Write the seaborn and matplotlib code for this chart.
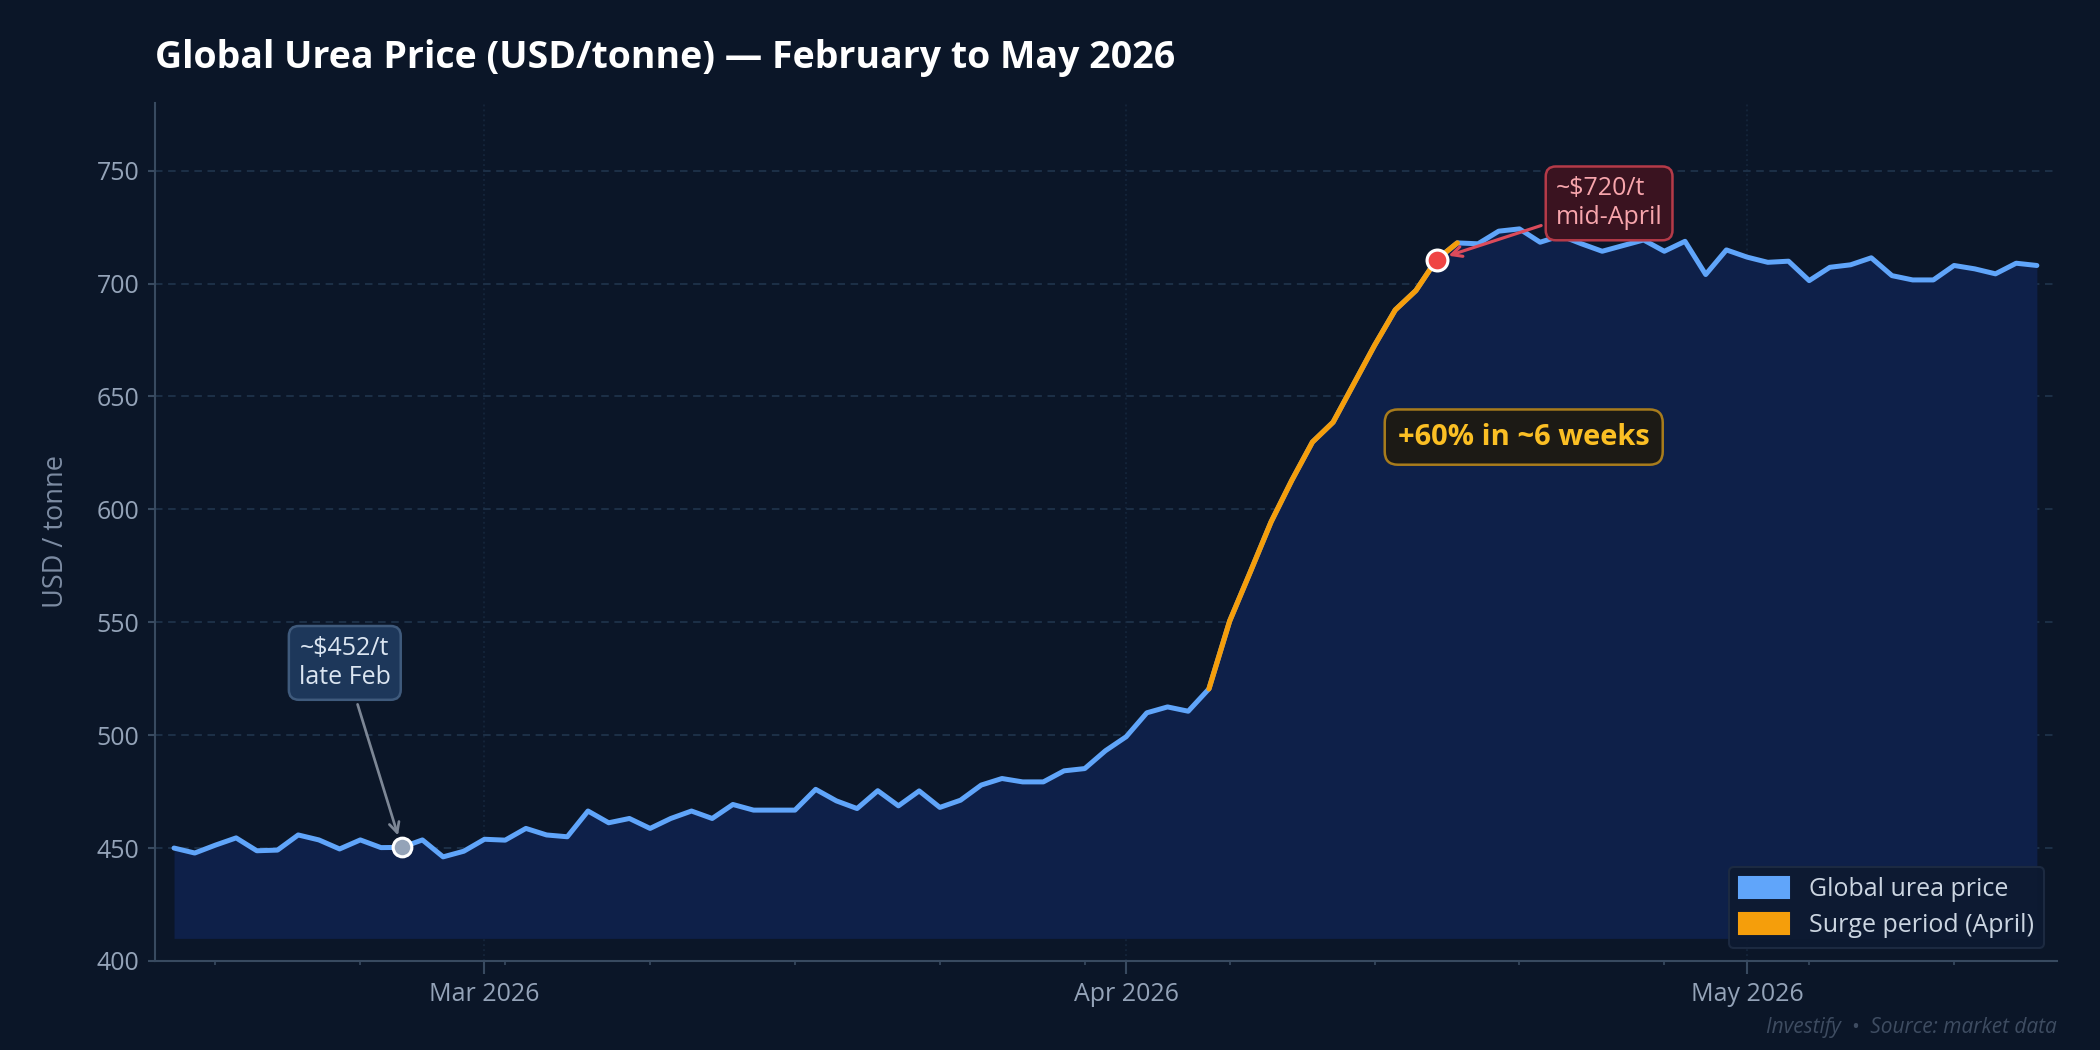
import matplotlib
matplotlib.use('Agg')
import matplotlib.pyplot as plt
import matplotlib.dates as mdates
from matplotlib.patches import Patch
import seaborn as sns
import pandas as pd

# daily global urea price, USD/tonne, 14 Feb -> 15 May 2026
start_date = '2026-02-14'
price = [
    450.0, 447.8, 451.3, 454.5, 448.8, 449.1, 455.8, 453.6, 449.6, 453.6,
    450.2, 450.3, 453.6, 446.1, 448.6, 453.9, 453.5, 458.7, 455.8, 455.0,
    466.4, 461.2, 463.1, 458.7, 463.1, 466.4, 463.1, 469.3, 466.8, 466.8,
    466.8, 476.0, 470.9, 467.5, 475.4, 468.7, 475.3, 468.0, 471.2, 477.9,
    480.8, 479.3, 479.3, 484.2, 485.2, 493.1, 499.3, 509.9, 512.5, 510.6,
    520.5, 550.5, 572.3, 594.4, 612.8, 629.8, 638.6, 655.6, 672.6, 688.3,
    696.9, 710.6, 718.0, 717.6, 723.2, 724.2, 718.3, 721.2, 717.6, 714.3,
    716.8, 719.3, 714.3, 718.7, 704.0, 714.9, 711.7, 709.4, 709.9, 701.3,
    707.2, 708.3, 711.4, 703.5, 701.6, 701.6, 708.0, 706.5, 704.3, 709.0,
    708.0,
]
surge_start, surge_end = '2026-04-05', '2026-04-17'
low_date, peak_date = '2026-02-25', '2026-04-16'
series_labels = ['Global urea price', 'Surge period (April)']

df = pd.DataFrame({'date': pd.date_range(start_date, periods=len(price), freq='D'),
                   'price': price})
surge = df[(df.date >= surge_start) & (df.date <= surge_end)]

BG = '#0b1628'
BLUE = '#60a5fa'
ORANGE = '#f59e0b'
FILL = '#0e2049'
GRID = '#1e3149'
SPINE = '#384a60'
TICK = '#94a3b8'

sns.set_theme(style='dark', rc={
    'figure.facecolor': BG, 'axes.facecolor': BG,
    'axes.edgecolor': SPINE, 'xtick.color': SPINE, 'ytick.color': SPINE,
    'xtick.labelcolor': TICK, 'ytick.labelcolor': TICK,
})
plt.rcParams['font.family'] = ['Open Sans', 'DejaVu Sans']

fig, ax = plt.subplots(figsize=(14, 7), dpi=150)
fig.subplots_adjust(left=0.0738, right=0.9795, top=0.902, bottom=0.0848)

ax.fill_between(df.date, 410, df.price, color=FILL, linewidth=0, zorder=1)
sns.lineplot(data=df, x='date', y='price', ax=ax, color=BLUE, linewidth=2.4, zorder=3)
sns.lineplot(data=surge, x='date', y='price', ax=ax, color=ORANGE, linewidth=2.5, zorder=4)

low = df[df.date == low_date]
peak = df[df.date == peak_date]
ax.scatter(low.date, low.price, s=80, color='#94a3b8', edgecolor='white', linewidth=1.5, zorder=6)
ax.scatter(peak.date, peak.price, s=100, color='#ef4444', edgecolor='white', linewidth=1.5, zorder=6)

# axes
ax.set_ylim(400, 780)
ax.set_yticks(range(400, 751, 50))
ax.set_xlim(df.date.iloc[0] - pd.Timedelta(days=0.92), df.date.iloc[-1] + pd.Timedelta(days=0.97))
ax.xaxis.set_major_locator(mdates.MonthLocator())
ax.xaxis.set_major_formatter(mdates.DateFormatter('%b %Y'))
ax.xaxis.set_minor_locator(mdates.WeekdayLocator(byweekday=mdates.MO))
ax.tick_params(axis='x', which='major', length=6, width=1, pad=4, labelsize=12, bottom=True)
ax.tick_params(axis='x', which='minor', length=2, width=0.8, bottom=True)
ax.tick_params(axis='y', which='major', length=3.5, width=1, pad=4, labelsize=12, left=True)
for s in ['top', 'right']:
    ax.spines[s].set_visible(False)
for s in ['left', 'bottom']:
    ax.spines[s].set_color(SPINE)
    ax.spines[s].set_linewidth(1)
ax.grid(axis='y', color=GRID, linestyle=(0, (4, 3)), linewidth=0.9)
ax.grid(axis='x', which='major', color='#14243a', linestyle=':', linewidth=0.9)
ax.set_axisbelow(True)
ax.set_xlabel('')
ax.set_ylabel('USD / tonne', fontsize=13, color='#7d8ca3')
ax.yaxis.set_label_coords(-0.0447, 0.5)

# annotations
ax.annotate('~$452/t\nlate Feb', xy=(low.date.iloc[0], low.price.iloc[0]),
            xytext=(pd.Timestamp('2026-02-22 06:00'), 532), ha='center', va='center',
            fontsize=12, color='#dbe5f1',
            bbox=dict(boxstyle='round,pad=0.4', fc='#1d375a', ec='#3f5a7c', lw=1.2),
            arrowprops=dict(arrowstyle='->', color='#7d8796', lw=1.3, shrinkB=6), zorder=7)
ax.annotate('~$720/t\nmid-April', xy=(peak.date.iloc[0], peak.price.iloc[0]),
            xytext=(pd.Timestamp('2026-04-24 08:00'), 735.5), ha='center', va='center',
            multialignment='left', fontsize=12, color='#f7a5ac',
            bbox=dict(boxstyle='round,pad=0.4', fc='#3a1320', ec='#b53a48', lw=1.2),
            arrowprops=dict(arrowstyle='->', color='#dc4b5b', lw=1.5, shrinkB=6), zorder=7)
ax.text(pd.Timestamp('2026-04-20 05:00'), 632, '+60% in ~6 weeks', ha='center', va='center',
        fontsize=14, fontweight='bold', color='#fbbf24', zorder=7,
        bbox=dict(boxstyle='round,pad=0.45', fc='#1c1a15', ec='#a87c1c', lw=1.2))

handles = [Patch(color=BLUE), Patch(color=ORANGE)]
leg = ax.legend(handles, series_labels, loc='lower right', fontsize=12, frameon=True,
                facecolor='#0d1a31', edgecolor='#1d2b42', framealpha=0.95,
                labelcolor='#cbd5e1', handlelength=2.0, handleheight=0.9,
                labelspacing=0.45, borderaxespad=0.5)
leg.set_zorder(8)

fig.text(0.0738, 1 - 58 / 1050, 'Global Urea Price (USD/tonne) \u2014 February to May 2026',
         fontsize=18, fontweight='bold', color='white', ha='left', va='center')
fig.text(0.9795, 1 - 1028 / 1050, 'Investify  \u2022  Source: market data', fontsize=10,
         style='italic', color='#3e4c61', ha='right', va='center')

plt.savefig('out.png', dpi=150, facecolor=BG)
